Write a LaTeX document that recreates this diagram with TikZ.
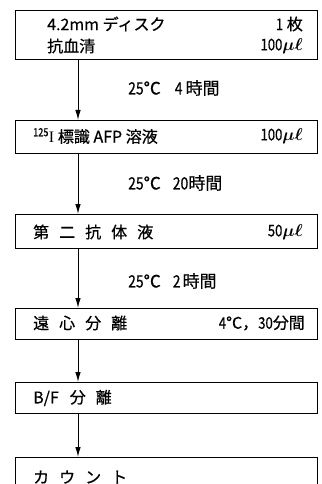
\documentclass[tikz,border=0pt]{standalone}
\usepackage{fontspec}
\setmainfont{Noto Sans CJK JP}[FakeBold=0.6]
\newfontfamily\serifI{Liberation Serif}
\usepackage{bm}
\usetikzlibrary{arrows.meta}
\newcommand\cnd[1]{\scalebox{0.82}[1]{#1}}
\newcommand\gp{\hspace{10pt}}
\newcommand\ul{$\bm{\mu\ell}$}
\begin{document}
\begin{tikzpicture}[x=1pt,y=-1pt,
 box/.style={draw,line width=1.4pt,minimum width=302pt,inner sep=0pt,anchor=north west},
 txt/.style={inner sep=0pt,font=\fontsize{16}{16}\selectfont},
 lab/.style={inner sep=0pt,font=\fontsize{17}{17}\selectfont},
 flow/.style={line width=1pt,-{Latex[length=10pt,width=5.5pt]}}]
\useasboundingbox (0,0) rectangle (321,484);
\clip (0,0) rectangle (321,484);
\node[box,minimum height=49pt] (b1) at (15,10) {};
\node[box,minimum height=33pt] (b2) at (15,120) {};
\node[box,minimum height=34pt] (b3) at (15,214) {};
\node[box,minimum height=31pt] (b4) at (15,308) {};
\node[box,minimum height=31pt] (b5) at (15,382) {};
\node[box,minimum height=60pt] (b6) at (15,457) {};
\coordinate (ax) at (78,0);
\draw[flow] (b1.south -| ax) -- (b2.north -| ax);
\draw[flow] (b2.south -| ax) -- (b3.north -| ax);
\draw[flow] (b3.south -| ax) -- (b4.north -| ax);
\draw[flow] (b4.south -| ax) -- (b5.north -| ax);
\draw[flow] (b5.south -| ax) -- (b6.north -| ax);
% box texts
\node[txt,anchor=west] (t1a) at (47,24) {4.2mm ディスク};
\node[txt,anchor=west] (t1b) at (47,46) {抗血清};
\node[txt,anchor=east] (t1c) at (303,24) {\cnd{1} 枚};
\node[txt,anchor=east] (t1d) at (303,46) {\cnd{100}\ul};
\node[txt,anchor=west] (t2a) at (33,136) {\textsuperscript{\cnd{125}}{\serifI I} 標識 AFP 溶液};
\node[txt,anchor=east] (t2b) at (303,136) {\cnd{100}\ul};
\node[txt,anchor=west] (t3a) at (33,232) {第\gp 二\gp 抗\gp 体\gp 液};
\node[txt,anchor=east] (t3b) at (303,232) {\cnd{50}\ul};
\node[txt,anchor=west] (t4a) at (33,323) {遠\gp 心\gp 分\gp 離};
\node[txt,anchor=east] (t4b) at (305,323) {\cnd{4}°C，\cnd{30}分間};
\node[txt,anchor=west] (t5a) at (33,398) {B/F\hspace{11pt}分\gp 離};
\node[txt,anchor=west] (t6a) at (33,477) {カ\gp ウ\gp ン\gp ト};
% step labels
\node[lab,anchor=west] (l1) at (128,88) {\cnd{25}°C\hspace{14pt}\cnd{4}\hspace{3pt}時間};
\node[lab,anchor=west] (l2) at (128,183) {\cnd{25}°C\hspace{12pt}\cnd{20}時間};
\node[lab,anchor=west] (l3) at (128,281) {\cnd{25}°C\hspace{12pt}\cnd{2}\hspace{2pt}時間};
\end{tikzpicture}
\end{document}
